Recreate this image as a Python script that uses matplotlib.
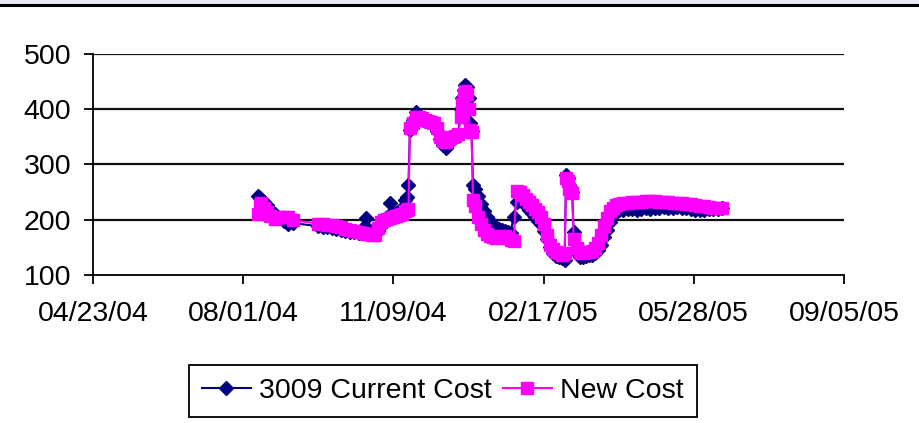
import numpy as np
import pandas as pd
import matplotlib
matplotlib.use("Agg")
import matplotlib.pyplot as plt
import matplotlib.dates as mdates
from matplotlib.lines import Line2D
from matplotlib.patches import Rectangle

plt.rcParams["font.family"] = ["Liberation Sans", "DejaVu Sans"]

# days counted from 04/23/04
start = pd.Timestamp("2004-04-23")
days = [110, 111, 112, 114, 116, 118, 121, 124, 127, 130, 133,
        150, 153, 156, 159, 162, 165, 168, 171, 174, 177, 180, 182, 184, 186,
        188, 190, 192, 194, 196, 198, 200, 202, 204, 206, 208, 209, 210,
        211, 213, 215, 217, 219, 221, 223, 225, 227, 229, 231, 233, 235, 237,
        239, 241, 243, 245, 246, 247, 248, 249, 250, 251, 252,
        253, 254, 256, 258, 260, 262, 264, 266, 268, 270, 272, 274, 276, 278,
        280, 282, 284, 286, 288, 290, 292, 294, 296, 298, 300, 302, 304, 306,
        308, 310, 312, 314, 315, 316, 317, 318, 319, 320, 322, 324, 326, 328,
        330, 332, 334, 336, 338, 340, 342, 344, 346, 348, 350,
        353, 356, 359, 362, 365, 368, 371, 374, 377, 380, 383, 386, 389, 392,
        395, 398, 401, 404, 407, 410, 413, 416, 419]

current_cost = [243, 240, 236, 232, 226, 218, 210, 203, 197, 193, 194,
                188, 187, 186, 185, 183, 181, 180, 178, 177, 176, 185, 203, 182, 175,
                174, 180, 188, 196, 205, 230, 210, 212, 216, 222, 236, 241, 263,
                362, 380, 395, 388, 382, 378, 376, 374, 372, 360, 345, 335, 330, 338,
                345, 350, 352, 400, 420, 435, 444, 440, 420, 375, 360,
                262, 255, 242, 228, 215, 205, 198, 190, 186, 184, 182, 180, 178, 176,
                205, 232, 238, 232, 225, 218, 212, 205, 198, 192, 180, 165, 150, 140,
                135, 132, 130, 128, 281, 275, 262, 255, 250, 178, 140, 132, 133, 135,
                136, 137, 140, 145, 155, 168, 182, 196, 208, 214, 217,
                218, 219, 220, 218, 220, 221, 219, 222, 221, 223, 222, 221, 223, 222,
                221, 220, 218, 217, 218, 219, 220, 220, 221]

new_cost = [210, 226, 230, 222, 214, 206, 202, 204, 205, 204, 199,
            193, 192, 191, 190, 188, 186, 184, 182, 180, 178, 176, 175, 174, 172,
            173, 185, 195, 200, 202, 203, 205, 206, 208, 210, 215, 218, 220,
            365, 375, 385, 386, 384, 380, 378, 377, 375, 365, 350, 343, 340, 345,
            350, 352, 355, 385, 410, 425, 432, 428, 400, 362, 358,
            236, 225, 205, 192, 182, 175, 170, 168, 167, 168, 170, 170, 166, 163,
            162, 252, 250, 244, 238, 232, 226, 220, 213, 205, 192, 172, 155, 147,
            142, 139, 137, 140, 275, 270, 255, 250, 248, 165, 148, 140, 140, 141,
            142, 144, 148, 158, 172, 188, 203, 215, 222, 227, 229,
            230, 231, 232, 232, 232, 233, 233, 233, 232, 232, 232, 231, 231, 230,
            229, 228, 227, 225, 224, 223, 222, 221, 221]

dates = start + pd.to_timedelta(days, unit="D")
tick_dates = [start + pd.Timedelta(days=100 * i) for i in range(6)]

navy = "#000080"
pink = "#ff00ff"
fs = 20.5

fig = plt.figure(figsize=(9.19, 4.23), dpi=100)
ax = fig.add_axes([93 / 919, 1 - 275 / 423, 751 / 919, 221.25 / 423])

ax.plot(dates, current_cost, color=navy, lw=1.5, marker="D", ms=7,
        mec=navy, mfc=navy, label="3009 Current Cost")
ax.plot(dates, new_cost, color=pink, lw=1.5, marker="s", ms=8.2,
        mec=pink, mfc=pink, label="New Cost")

ax.set_ylim(100, 500)
ax.set_yticks([100, 200, 300, 400, 500])
ax.set_xlim(tick_dates[0], tick_dates[-1])
ax.set_xticks(tick_dates)
ax.xaxis.set_major_formatter(mdates.DateFormatter("%m/%d/%y"))

for v in [200, 300, 400, 500]:
    ax.axhline(v, color="#111111", lw=1.6, zorder=0.5)

for s in ["top", "right"]:
    ax.spines[s].set_visible(False)
for s in ["left", "bottom"]:
    ax.spines[s].set_color("black")
    ax.spines[s].set_linewidth(1.3)

ax.tick_params(axis="both", direction="out", length=6.5, width=1.3,
               colors="black", labelsize=fs)
ax.tick_params(axis="x", pad=12)
ax.tick_params(axis="y", pad=9)

leg = fig.legend(loc="center", bbox_to_anchor=(443 / 919, 1 - 391 / 423), ncol=2,
                 fontsize=fs, frameon=True, fancybox=False, edgecolor="black",
                 framealpha=1, handlelength=1.7, handletextpad=0.3,
                 columnspacing=0.4, borderpad=0.45, borderaxespad=0)
leg.get_frame().set_linewidth(1.3)

# band across the top edge
fig.add_artist(Rectangle((0, 1 - 4 / 423), 1, 4 / 423, transform=fig.transFigure,
                         color="#e8eaf2", lw=0))
fig.add_artist(Line2D([0, 1], [1 - 5.5 / 423] * 2, transform=fig.transFigure,
                      color="black", lw=2.2))

fig.savefig("out.png", dpi=100)
